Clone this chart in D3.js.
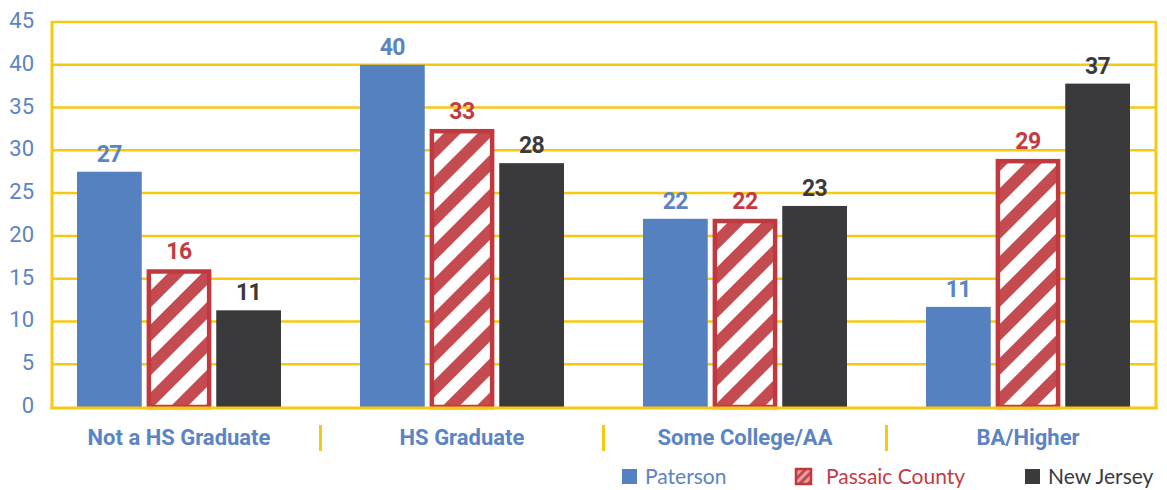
<!DOCTYPE html>
<html>
<head>
<meta charset="utf-8">
<script src="https://cdn.jsdelivr.net/npm/d3@7/dist/d3.min.js"></script>
<style>
  html, body { margin: 0; padding: 0; background: #ffffff; }
  svg { display: block; }
</style>
</head>
<body>
<svg id="chart" width="1167" height="490"></svg>
<script>
// ---- data ----
const categories = ["Not a HS Graduate", "HS Graduate", "Some College/AA", "BA/Higher"];
const seriesNames = ["Paterson", "Passaic County", "New Jersey"];
const paterson = [27.5, 40.0, 22.0, 11.7];
const passaic = [16.1, 32.5, 22.0, 29.0];
const newJersey = [11.3, 28.5, 23.5, 37.8];
const patersonLabels = ["27", "40", "22", "11"];
const passaicLabels = ["16", "33", "22", "29"];
const newJerseyLabels = ["11", "28", "23", "37"];
const yTicks = [0, 5, 10, 15, 20, 25, 30, 35, 40, 45];

// ---- styles ----
const yellow = "#F6C913";
const blue = "#5581C1";
const red = "#C0393F";
const dark = "#3A3A3C";
const axisBlue = "#5B84C4";

const seriesData = [
  { name: seriesNames[0], values: paterson, labels: patersonLabels, color: blue, labelColor: "#5A84C2" },
  { name: seriesNames[1], values: passaic, labels: passaicLabels, color: red, labelColor: "#C33B42" },
  { name: seriesNames[2], values: newJersey, labels: newJerseyLabels, color: dark, labelColor: "#3A3A3C" }
];

const svg = d3.select("#chart");
const plotLeft = 52, plotRight = 1156, plotTop = 22, plotBottom = 407;

const y = d3.scaleLinear().domain([0, 45]).range([plotBottom, plotTop]);
const x = d3.scaleBand().domain(categories).range([37.5, 1169.5]).paddingInner(0).paddingOuter(0);
const xs = d3.scaleBand().domain(seriesNames).range([-102, 102]).paddingInner(0.07).paddingOuter(0);

// hatch pattern
const defs = svg.append("defs");
const pat = defs.append("pattern")
  .attr("id", "hatch")
  .attr("patternUnits", "userSpaceOnUse")
  .attr("width", 24).attr("height", 24)
  .attr("patternTransform", "rotate(-45)");
pat.append("rect").attr("width", 24).attr("height", 24).attr("fill", "#ffffff");
pat.append("rect").attr("width", 24).attr("height", 12).attr("fill", "#C44C51");

// gridlines
svg.append("g").selectAll("line").data(yTicks.filter(d => d > 0)).join("line")
  .attr("x1", plotLeft).attr("x2", plotRight)
  .attr("y1", d => y(d)).attr("y2", d => y(d))
  .attr("stroke", yellow).attr("stroke-width", 2.5);

// axes lines
svg.append("line").attr("x1", plotLeft).attr("x2", plotLeft).attr("y1", plotTop - 1).attr("y2", plotBottom + 2)
  .attr("stroke", yellow).attr("stroke-width", 3);
svg.append("line").attr("x1", plotRight).attr("x2", plotRight).attr("y1", plotTop - 1).attr("y2", plotBottom + 2)
  .attr("stroke", yellow).attr("stroke-width", 3);

// y tick labels
svg.append("g").selectAll("text").data(yTicks).join("text")
  .attr("x", 34).attr("y", d => y(d) + 6)
  .attr("text-anchor", "end")
  .attr("font-family", "Roboto, sans-serif")
  .attr("font-size", 22)
  .attr("fill", axisBlue)
  .text(d => d);

// bars
const groups = svg.append("g").selectAll("g").data(seriesData).join("g");
groups.each(function(s) {
  const g = d3.select(this);
  const rows = categories.map((c, i) => ({ c, v: s.values[i], label: s.labels[i] }));
  if (s.name === "Passaic County") {
    const sw = 4.5;
    g.selectAll("rect").data(rows).join("rect")
      .attr("x", d => x(d.c) + x.bandwidth() / 2 + xs(s.name) + sw / 2)
      .attr("width", xs.bandwidth() - sw)
      .attr("y", d => y(d.v) + sw / 2)
      .attr("height", d => y(0) - y(d.v) - sw / 2)
      .attr("fill", "url(#hatch)")
      .attr("stroke", s.color)
      .attr("stroke-width", sw);
  } else {
    g.selectAll("rect").data(rows).join("rect")
      .attr("x", d => x(d.c) + x.bandwidth() / 2 + xs(s.name))
      .attr("width", xs.bandwidth())
      .attr("y", d => y(d.v))
      .attr("height", d => y(0) - y(d.v))
      .attr("fill", s.color);
  }
  g.selectAll("text").data(rows).join("text")
    .attr("x", d => x(d.c) + x.bandwidth() / 2 + xs(s.name) + xs.bandwidth() / 2)
    .attr("y", d => y(d.v) - 10)
    .attr("text-anchor", "middle")
    .attr("font-family", "Roboto, sans-serif")
    .attr("font-weight", 700)
    .attr("font-size", 23)
    .attr("letter-spacing", -0.5)
    .attr("fill", s.labelColor)
    .text(d => d.label);
});

// baseline
svg.append("line").attr("x1", plotLeft - 1.5).attr("x2", plotRight + 1.5)
  .attr("y1", plotBottom + 1).attr("y2", plotBottom + 1)
  .attr("stroke", yellow).attr("stroke-width", 3);

// category labels
svg.append("g").selectAll("text").data(categories).join("text")
  .attr("x", d => x(d) + x.bandwidth() / 2)
  .attr("y", 445)
  .attr("text-anchor", "middle")
  .attr("font-family", "Roboto, sans-serif")
  .attr("font-weight", 700)
  .attr("font-size", 22)
  .attr("fill", axisBlue)
  .text(d => d);

// category dividers
svg.append("g").selectAll("line").data(categories.slice(1)).join("line")
  .attr("x1", d => x(d)).attr("x2", d => x(d))
  .attr("y1", 425).attr("y2", 451)
  .attr("stroke", yellow).attr("stroke-width", 3);

// legend
const legendItems = [
  { name: seriesNames[0], sx: 622, tx: 645, fill: blue, color: "#5A84C2" },
  { name: seriesNames[1], sx: 796, tx: 826, fill: "url(#hatchSmall)", color: "#C33B42" },
  { name: seriesNames[2], sx: 1025, tx: 1048, fill: dark, color: "#3A3A3C" }
];
const patS = defs.append("pattern")
  .attr("id", "hatchSmall")
  .attr("patternUnits", "userSpaceOnUse")
  .attr("width", 6).attr("height", 6)
  .attr("patternTransform", "rotate(-45)");
patS.append("rect").attr("width", 6).attr("height", 6).attr("fill", "#E8A0A2");
patS.append("rect").attr("width", 6).attr("height", 3).attr("fill", "#C4494E");

const lg = svg.append("g").selectAll("g").data(legendItems).join("g");
lg.append("rect")
  .attr("x", d => d.sx).attr("y", 469).attr("width", 15).attr("height", 15)
  .attr("fill", d => d.fill)
  .attr("stroke", d => d.name === "Passaic County" ? red : "none")
  .attr("stroke-width", 2.5);
lg.append("text")
  .attr("x", d => d.tx).attr("y", 484)
  .attr("font-family", "Lato, sans-serif")
  .attr("font-size", 21)
  .attr("fill", d => d.color)
  .text(d => d.name);
</script>
</body>
</html>
